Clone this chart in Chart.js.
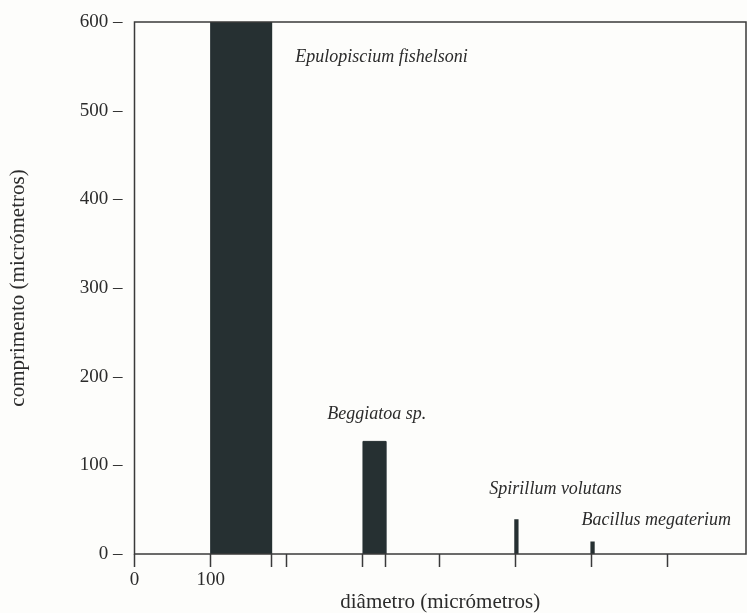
<!DOCTYPE html>
<html>
<head>
<meta charset="utf-8">
<script src="https://cdn.jsdelivr.net/npm/chart.js@4.4.1/dist/chart.umd.min.js"></script>
<style>
  html, body { margin: 0; padding: 0; background: #fdfdfb; }
  #wrap { width: 747px; height: 613px; }
</style>
</head>
<body>
<div id="wrap"><canvas id="sizeChart"></canvas></div>
<script>
/******************** Data ********************/

var species = ["Epulopiscium fishelsoni", "Beggiatoa sp.", "Spirillum volutans", "Bacillus megaterium"];
var xStart = [100, 300, 500, 600];     // where each bar starts on the diameter axis
var diameter = [80, 30, 3, 3];         // bar width (micrometres)
var length = [600, 127, 38, 13];       // bar height (micrometres)

var xTickValues = [0, 100, 180, 200, 300, 330, 400, 500, 600, 700];
var xTickLabels = ["0", "100", "", "", "", "", "", "", "", ""];
var yTickValues = [0, 100, 200, 300, 400, 500, 600];

// label anchors (data units), left edge / middle of text
var labelAt = [[211, 560], [253, 158], [466, 73], [587, 38]];

var barColor = "#263032";
var inkColor = "#2b2b2b";
var serif = "'Liberation Serif', 'Times New Roman', serif";

/******************** Build datasets ********************/

var datasets = species.map(function(name, i) {
  var x0 = xStart[i], x1 = xStart[i] + diameter[i];
  return {
    label: name,
    data: [{x: x0, y: 0}, {x: x0, y: length[i]}, {x: x1, y: length[i]}, {x: x1, y: 0}],
    showLine: true,
    fill: "origin",
    backgroundColor: barColor,
    borderColor: barColor,
    borderWidth: diameter[i] < 10 ? 2 : 1,
    pointRadius: 0,
    tension: 0
  };
});

// frame round the plot + species names
var framePlugin = {
  id: "frame",
  afterDatasetsDraw: function(chart) {
    var ctx = chart.ctx, a = chart.chartArea;
    var xs = chart.scales.x, ys = chart.scales.y;
    ctx.save();
    ctx.strokeStyle = "#3a3a3a";
    ctx.lineWidth = 1.5;
    ctx.strokeRect(a.left, a.top, a.right - a.left, a.bottom - a.top);

    ctx.fillStyle = inkColor;
    ctx.font = "italic 18px " + serif;
    ctx.textAlign = "left";
    ctx.textBaseline = "middle";
    species.forEach(function(name, i) {
      ctx.fillText(name, xs.getPixelForValue(labelAt[i][0]), ys.getPixelForValue(labelAt[i][1]));
    });
    ctx.restore();
  }
};

new Chart("sizeChart", {
  type: "scatter",
  data: { datasets: datasets },
  plugins: [framePlugin],
  options: {
    responsive: true,
    maintainAspectRatio: false,
    animation: false,
    layout: { padding: { top: 22, right: 1, left: 0, bottom: 0 } },
    plugins: {
      legend: { display: false },
      tooltip: { enabled: false }
    },
    scales: {
      x: {
        type: "linear",
        min: 0,
        max: 803,
        afterFit: function(s) { s.height = 59; },
        afterBuildTicks: function(s) {
          s.ticks = xTickValues.map(function(v) { return {value: v}; });
        },
        border: { display: false },
        grid: {
          drawOnChartArea: false,
          drawTicks: true,
          tickLength: 13,
          tickWidth: 1.5,
          tickColor: "#3a3a3a"
        },
        ticks: {
          autoSkip: false,
          maxRotation: 0,
          padding: 2,
          color: inkColor,
          font: { family: serif, size: 19 },
          callback: function(v) {
            var k = xTickValues.indexOf(v);
            return k >= 0 ? xTickLabels[k] : "";
          }
        },
        title: {
          display: true,
          text: "diâmetro (micrómetros)",
          color: inkColor,
          padding: { top: 0, bottom: 0 },
          font: { family: serif, size: 21, lineHeight: 1.0 }
        }
      },
      y: {
        min: 0,
        max: 600,
        afterFit: function(s) { s.width = 134.5; },
        afterBuildTicks: function(s) {
          s.ticks = yTickValues.map(function(v) { return {value: v}; });
        },
        border: { display: false },
        grid: { display: false },
        ticks: {
          padding: 4,
          color: inkColor,
          font: { family: serif, size: 19 },
          callback: function(v) { return v + " \u2013"; }
        },
        title: {
          display: true,
          text: "comprimento (micrómetros)",
          color: inkColor,
          padding: { top: 6, bottom: 0 },
          font: { family: serif, size: 21 }
        }
      }
    }
  }
});
</script>
</body>
</html>
